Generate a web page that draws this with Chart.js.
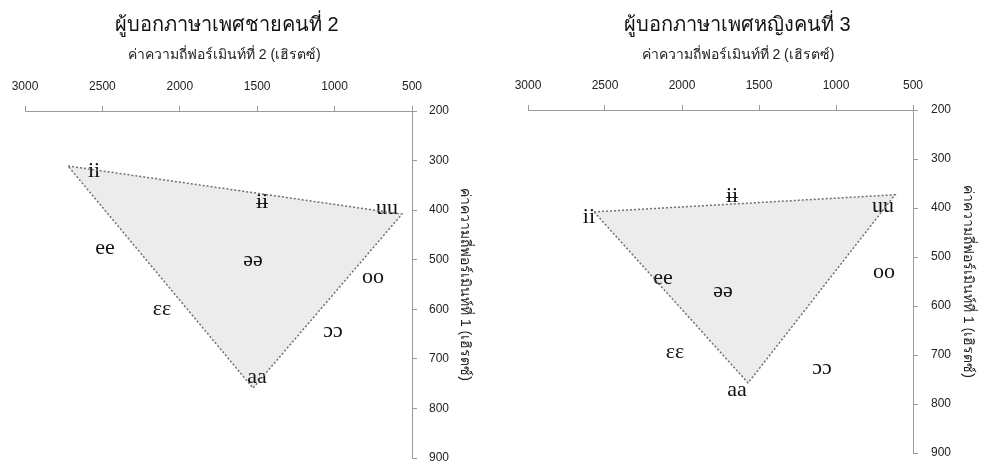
<!DOCTYPE html>
<html>
<head>
<meta charset="utf-8">
<script src="https://cdn.jsdelivr.net/npm/chart.js@4.4.1/dist/chart.umd.min.js"></script>
<style>
  body { margin: 0; background: #fff; }
  .box { position: absolute; top: 0; height: 468px; }
</style>
</head>
<body>
<div class="box" style="left:0;width:490px"><canvas id="male2"></canvas></div>
<div class="box" style="left:490px;width:495px"><canvas id="female3"></canvas></div>
<script>
// vowel labels (same order for both speakers)
const vowels = ["ii", "ɨɨ", "uu", "ee", "əə", "oo", "ɛɛ", "ɔɔ", "aa"];

// speaker 1: male no. 2 (Hz)
const male2F2 = [2554, 1469, 661, 2483, 1527, 752, 2115, 1010, 1501];
const male2F1 = [323, 386, 398, 478, 503, 537, 601, 646, 739];
const male2CornerF2 = [2722, 565, 1527, 2722];
const male2CornerF1 = [311, 408, 759, 311];

// speaker 2: female no. 3 (Hz)
const female3F2 = [2604, 1675, 695, 2123, 1734, 688, 2045, 1091, 1643];
const female3F1 = [420, 378, 398, 545, 571, 533, 696, 729, 773];
const female3CornerF2 = [2571, 617, 1571, 2571];
const female3CornerF1 = [408, 373, 757, 408];

const f2Title = "ค่าความถี่ฟอร์เมินท์ที่ 2 (เฮิรตซ์)";
const f1Title = "ค่าความถี่ฟอร์เมินท์ที่ 1 (เฮิรตซ์)";

const axisGrey = "#9a9a9a";
const tickText = "#222";

// titles in the original sit a bit right of the plot centre; leading spaces nudge them
const nudge = (text, n) => " ".repeat(n) + text;

// writes the vowel symbols after the grey fill, under the dotted outline
const vowelLabels = {
  id: "vowelLabels",
  afterDatasetDraw(chart, args) {
    if (args.index !== 1) return;
    const ctx = chart.ctx;
    const xs = chart.scales.x, ys = chart.scales.y;
    const lab = chart.options.plugins.vowelLabels;
    ctx.save();
    ctx.font = "22px 'Liberation Serif', 'DejaVu Serif', serif";
    ctx.fillStyle = "#111";
    ctx.textAlign = "center";
    ctx.textBaseline = "alphabetic";
    lab.names.forEach((name, i) => {
      const px = xs.getPixelForValue(lab.f2[i]);
      const py = ys.getPixelForValue(lab.f1[i]);
      ctx.fillText(name, px, py + 5);
    });
    ctx.restore();
  }
};

function vowelChart(id, title, cornerF2, cornerF1, f2, f1, cfg) {
  const corners = cornerF2.map((v, i) => ({ x: v, y: cornerF1[i] }));
  return new Chart(document.getElementById(id), {
    type: "scatter",
    data: {
      datasets: [
        {
          data: corners,
          showLine: true,
          fill: false,
          borderColor: "#6f6f6f",
          borderWidth: 1.5,
          borderDash: [2, 2],
          pointRadius: 0
        },
        {
          data: corners,
          showLine: true,
          fill: "shape",
          backgroundColor: "#ececec",
          borderWidth: 0,
          pointRadius: 0
        }
      ]
    },
    options: {
      responsive: true,
      maintainAspectRatio: false,
      animation: false,
      layout: { padding: { left: cfg.padLeft, right: 0, top: 0, bottom: cfg.padBottom } },
      plugins: {
        legend: { display: false },
        tooltip: { enabled: false },
        title: {
          display: true,
          text: nudge(title, cfg.titleShift),
          fullSize: false,
          color: "#111",
          font: { family: "Arial, 'Liberation Sans', sans-serif", size: 20, weight: "normal" },
          padding: { top: 13, bottom: 0 }
        },
        vowelLabels: { names: vowels, f2: f2, f1: f1 }
      },
      scales: {
        x: {
          type: "linear",
          position: "top",
          min: 500,
          max: 3000,
          reverse: true,
          afterFit: (s) => {
            s.height = cfg.xHeight;
            s.paddingLeft = 0;
            s.paddingRight = 0;
          },
          ticks: {
            stepSize: 500,
            padding: 12,
            color: tickText,
            font: { family: "Arial, 'Liberation Sans', sans-serif", size: 12 },
            callback: (v) => String(v)
          },
          grid: { drawOnChartArea: false, tickLength: 5, color: axisGrey },
          border: { color: axisGrey, width: 1 },
          title: {
            display: true,
            text: nudge(f2Title, cfg.subShift),
            color: "#222",
            font: { family: "Arial, 'Liberation Sans', sans-serif", size: 14 },
            padding: { top: 10, bottom: 0 }
          }
        },
        y: {
          type: "linear",
          position: "right",
          min: 200,
          max: 900,
          reverse: true,
          afterFit: (s) => {
            s.width = cfg.yWidth;
            s.paddingTop = 0;
            s.paddingBottom = 0;
          },
          ticks: {
            stepSize: 100,
            padding: cfg.yTickPad,
            color: tickText,
            font: { family: "Arial, 'Liberation Sans', sans-serif", size: 12 },
            callback: (v) => String(v)
          },
          grid: { drawOnChartArea: false, tickLength: 5, color: axisGrey },
          border: { color: axisGrey, width: 1 },
          title: {
            display: true,
            text: f1Title,
            color: "#222",
            font: { family: "Arial, 'Liberation Sans', sans-serif", size: 14 },
            padding: { top: cfg.yTitlePad, bottom: 0 }
          }
        }
      }
    },
    plugins: [vowelLabels]
  });
}

vowelChart("male2", "ผู้บอกภาษาเพศชายคนที่ 2", male2CornerF2, male2CornerF1, male2F2, male2F1,
  { padLeft: 25, padBottom: 10, xHeight: 74, yWidth: 78, yTickPad: 12, yTitlePad: 17, titleShift: 3, subShift: 3 });
vowelChart("female3", "ผู้บอกภาษาเพศหญิงคนที่ 3", female3CornerF2, female3CornerF1, female3F2, female3F1,
  { padLeft: 38, padBottom: 15, xHeight: 73, yWidth: 72, yTickPad: 13, yTitlePad: 9, titleShift: 6, subShift: 9 });
</script>
</body>
</html>
